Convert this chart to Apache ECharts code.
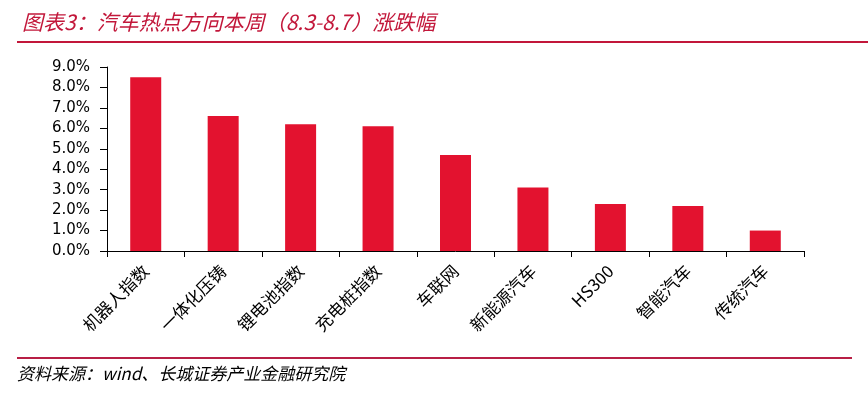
<!DOCTYPE html>
<html>
<head>
    <meta charset="UTF-8">
    <title>汽车热点方向本周涨跌幅</title>
    <script type="text/javascript" src="https://cdn.jsdelivr.net/npm/echarts@6/dist/echarts.min.js"></script>
    <style type="text/css">
        html, body { margin: 0; padding: 0; background: #fff; }
        #chart { width: 868px; height: 418px; }
    </style>
</head>
<body>
    <div id="chart"></div>
    <script>
    // 板块名称
    var categories = ['机器人指数', '一体化压铸', '锂电池指数', '充电桩指数', '车联网', '新能源汽车', 'HS300', '智能汽车', '传统汽车'];
    // 本周涨跌幅(%)
    var changes = [8.5, 6.6, 6.2, 6.1, 4.7, 3.1, 2.3, 2.2, 1.0];
    // y轴刻度
    var yMin = 0, yMax = 9, yStep = 1;

    var myChart = echarts.init(document.getElementById('chart'));

    var option = {
        animation: false,
        title: {
            text: '图表3：汽车热点方向本周（8.3-8.7）涨跌幅',
            left: 17,
            top: 7,
            textStyle: {
                color: '#C2173A',
                fontSize: 21,
                fontStyle: 'italic',
                fontWeight: 'normal',
                fontFamily: 'Noto Sans CJK SC'
            }
        },
        grid: {
            left: 107,
            right: 64,
            top: 67,
            bottom: 167
        },
        xAxis: {
            type: 'category',
            data: categories,
            axisLine: { lineStyle: { color: '#000', width: 1 } },
            axisTick: { show: true, length: 6, lineStyle: { color: '#000' } },
            axisLabel: {
                rotate: 45,
                margin: 17,
                color: '#000',
                fontSize: 17,
                fontFamily: 'Noto Sans CJK SC'
            }
        },
        yAxis: {
            type: 'value',
            min: yMin,
            max: yMax,
            interval: yStep,
            splitLine: { show: false },
            axisLine: { show: true, lineStyle: { color: '#000', width: 1 } },
            axisTick: { show: true, length: 7, lineStyle: { color: '#000' } },
            axisLabel: {
                margin: 17,
                color: '#000',
                fontSize: 15,
                fontFamily: 'DejaVu Sans',
                formatter: function (v) { return v.toFixed(1) + '%'; }
            }
        },
        series: [{
            type: 'bar',
            data: changes,
            barWidth: 31,
            itemStyle: { color: '#E3122F' }
        }],
        graphic: [
            {
                type: 'rect',
                shape: { x: 17, y: 41, width: 851, height: 2 },
                style: { fill: '#C2173A' }
            },
            {
                type: 'rect',
                shape: { x: 17, y: 357, width: 835, height: 2 },
                style: { fill: '#B81F45' }
            },
            {
                type: 'text',
                left: 17,
                top: 365,
                style: {
                    text: '资料来源：wind、长城证券产业金融研究院',
                    fill: '#000',
                    font: 'italic 17px "Noto Sans CJK SC"'
                }
            }
        ]
    };

    myChart.setOption(option);
    </script>
</body>
</html>
